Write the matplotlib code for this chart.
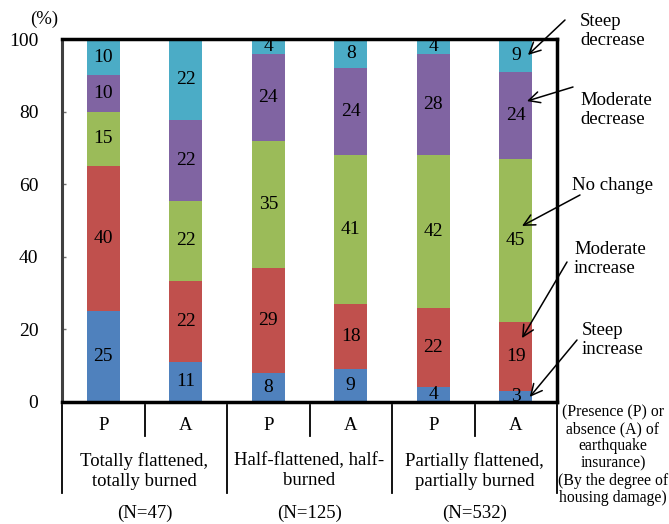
import matplotlib
matplotlib.use("Agg")
import matplotlib.pyplot as plt
import numpy as np

plt.rcParams['font.family'] = ['Liberation Serif', 'DejaVu Serif']

insurance = ["P", "A", "P", "A", "P", "A"]
groups = ["Totally flattened,\ntotally burned", "Half-flattened, half-\nburned",
          "Partially flattened,\npartially burned"]
group_n = ["(N=47)", "(N=125)", "(N=532)"]
series_names = ["Steep increase", "Moderate increase", "No change",
                "Moderate decrease", "Steep decrease"]
steep_increase = [25, 11.1, 8, 9, 4, 3]
moderate_increase = [40, 22.2, 29, 18, 22, 19]
no_change = [15, 22.2, 35, 41, 42, 45]
moderate_decrease = [10, 22.2, 24, 24, 28, 24]
steep_decrease = [10, 22.2, 4, 8, 4, 9]
colors = ["#4F81BD", "#C0504D", "#9BBB59", "#8064A2", "#4BACC6"]
yticks = [0, 20, 40, 60, 80, 100]

W, H = 669, 524
fig = plt.figure(figsize=(W / 100, H / 100), dpi=100)
ax = fig.add_axes([62 / W, 1 - 402 / H, (557 - 62) / W, (402 - 39) / H])

series = [steep_increase, moderate_increase, no_change, moderate_decrease, steep_decrease]
x = np.arange(len(insurance))
bottom = np.zeros(len(insurance))
FS = 14
FT = 13.5
for vals, c in zip(series, colors):
    vals = np.array(vals, dtype=float)
    ax.bar(x, vals, bottom=bottom, width=0.4, color=c, edgecolor='none', zorder=2)
    for xi, b, v in zip(x, bottom, vals):
        ax.text(xi, b + v / 2, f"{round(v)}", ha='center', va='center',
                fontsize=FS, color='black', zorder=3)
    bottom += vals

ax.set_xlim(-0.5, 5.5)
ax.set_ylim(0, 100)
ax.set_xticks([])
ax.set_yticks(yticks)
ax.set_yticklabels([str(t) for t in yticks], fontsize=FS)
ax.tick_params(axis='y', direction='in', length=3, width=1, color='#707070', pad=17)
for s in ['top', 'right', 'bottom']:
    ax.spines[s].set_linewidth(2.5)
    ax.spines[s].set_color('black')
ax.spines['left'].set_linewidth(2.2)
ax.spines['left'].set_color('#404040')

fig.text(44 / W, 1 - 19 / H, "(%)", ha='center', va='center', fontsize=FT)

# table below axes
def py(p):
    return 1 - p / H

tr = matplotlib.transforms.blended_transform_factory(ax.transData, fig.transFigure)
for xv in [0.5, 2.5, 4.5]:
    fig.add_artist(plt.Line2D([xv, xv], [py(405), py(436)], transform=tr, color='black', lw=1.3))
for xv in [-0.5, 1.5, 3.5, 5.5]:
    fig.add_artist(plt.Line2D([xv, xv], [py(405), py(493)], transform=tr, color='black', lw=1.3))
for xi, lab in zip(x, insurance):
    fig.text(xi, py(425), lab, transform=tr, ha='center', va='center', fontsize=FT)
for gi, (g, n) in enumerate(zip(groups, group_n)):
    gx = 2 * gi + 0.5
    fig.text(gx, py(471), g, transform=tr, ha='center', va='center', fontsize=FT,
             linespacing=1.22)
    fig.text(gx, py(513), n, transform=tr, ha='center', va='center', fontsize=FT)

fig.text(613 / W, py(455),
         "(Presence (P) or\nabsence (A) of\nearthquake\ninsurance)\n(By the degree of\nhousing damage)",
         ha='center', va='center', fontsize=11.3, linespacing=1.1)

# annotations
ann = [
    ("Steep\ndecrease", (5.148, 95.6), (565, 20), (580, 31)),
    ("Moderate\ndecrease", (5.136, 82.9), (573, 87), (580, 110)),
    ("No change", (5.076, 48.5), (580, 195), (572, 186)),
    ("Moderate\nincrease", (5.076, 17.6), (567, 262), (574, 259)),
    ("Steep\nincrease", (5.17, 1.4), (577, 340), (582, 340)),
]
for label, head, tail, tpos in ann:
    ax.annotate("", xy=head, xycoords='data',
                xytext=(tail[0] / W, py(tail[1])), textcoords='figure fraction',
                arrowprops=dict(arrowstyle='->', color='black', lw=1.1,
                                mutation_scale=20, shrinkA=0, shrinkB=0),
                annotation_clip=False, zorder=5)
    fig.text(tpos[0] / W, py(tpos[1]), label, ha='left', va='center', fontsize=FT,
             linespacing=1.22)

fig.savefig("out.png", dpi=100)
